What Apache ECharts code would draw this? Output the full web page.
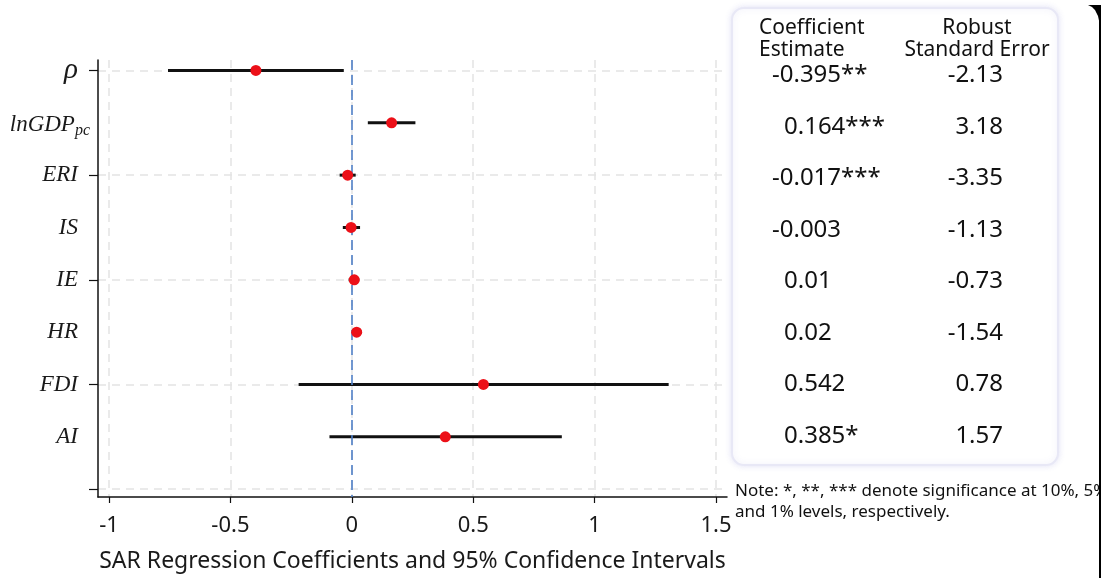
<!DOCTYPE html>
<html>
<head>
<meta charset="utf-8">
<script src="https://cdn.jsdelivr.net/npm/echarts@6/dist/echarts.min.js"></script>
<style>
html,body{margin:0;padding:0;background:#fff;}
#c{width:1107px;height:578px;}
</style>
</head>
<body>
<div id="c"></div>
<script>
// ---- data ----
const categories = ['ρ', 'lnGDP_pc', 'ERI', 'IS', 'IE', 'HR', 'FDI', 'AI'];
const coef = [-0.395, 0.164, -0.017, -0.003, 0.01, 0.02, 0.542, 0.385];
const ciLow = [-0.757, 0.066, -0.050, -0.037, -0.013, 0.004, -0.219, -0.092];
const ciHigh = [-0.033, 0.262, 0.016, 0.034, 0.031, 0.042, 1.305, 0.865];
const xTicks = [-1, -0.5, 0, 0.5, 1, 1.5];
const coefLabels = ['-0.395**', '0.164***', '-0.017***', '-0.003', '0.01', '0.02', '0.542', '0.385*'];
const seLabels = ['-2.13', '3.18', '-3.35', '-1.13', '-0.73', '-1.54', '0.78', '1.57'];
const headerCoef = 'Coefficient\nEstimate';
const headerSE = 'Robust\nStandard Error';
const noteLines = ['Note: *, **, *** denote significance at 10%, 5%,', 'and 1% levels, respectively.'];

const catPos = categories.map((c, i) => i + 1);
const yTickValues = [1, 3, 5, 7, 9];

const chart = echarts.init(document.getElementById('c'), null, {renderer: 'canvas'});

const SANS = '"Noto Sans", "Open Sans", sans-serif';
const SERIF = '"Liberation Serif", "DejaVu Serif", serif';

const option = {
  animation: false,
  backgroundColor: '#ffffff',
  grid: {left: 98, right: 380, top: 60, bottom: 75, containLabel: false},
  xAxis: {
    type: 'value',
    min: -1.0453,
    max: 1.5453,
    name: 'SAR Regression Coefficients and 95% Confidence Intervals',
    nameLocation: 'middle',
    nameGap: 53,
    nameTextStyle: {fontFamily: SANS, fontSize: 23, color: '#1a1a1a'},
    axisLine: {show: true, onZero: false, lineStyle: {color: '#111', width: 1.5}},
    axisTick: {show: true, length: 6, inside: false, customValues: xTicks, lineStyle: {color: '#111', width: 1.2}},
    axisLabel: {customValues: xTicks, margin: 18, fontFamily: SANS, fontSize: 22, color: '#1a1a1a',
      formatter: v => String(v)},
    splitLine: {show: true, lineStyle: {type: [8, 6], color: '#e3e3e3', width: 1.5}}
  },
  yAxis: {
    type: 'value',
    inverse: true,
    min: 0.80,
    max: 9.15,
    axisLine: {show: true, onZero: false, lineStyle: {color: '#111', width: 1.5}},
    axisTick: {show: true, length: 9, customValues: yTickValues, lineStyle: {color: '#111', width: 1.2}},
    axisLabel: {
      customValues: catPos,
      margin: 8,
      formatter: function (v) {
        const name = categories[Math.round(v) - 1];
        if (!name) return '';
        if (name.indexOf('_') >= 0) {
          const parts = name.split('_');
          return '{m2|' + parts[0] + '}{s|' + parts[1] + '}';
        }
        if (name.charCodeAt(0) >= 0x370) return '{g|' + name + '}';
        return '{m|' + name + '}';
      },
      rich: {
        m: {fontFamily: SERIF, fontStyle: 'italic', fontSize: 23, color: '#1a1a1a', padding: [0, 12, 0, 0]},
        g: {fontFamily: SERIF, fontStyle: 'italic', fontSize: 29, color: '#1a1a1a', padding: [0, 12, 0, 0]},
        m2: {fontFamily: SERIF, fontStyle: 'italic', fontSize: 23, color: '#1a1a1a', padding: [4, 0, 0, 0]},
        s: {fontFamily: SERIF, fontStyle: 'italic', fontSize: 16, color: '#1a1a1a', padding: [16, 0, 0, 0]}
      }
    },
    splitLine: {show: true, lineStyle: {type: [8, 6], color: '#e3e3e3', width: 1.5}}
  },
  series: [
    {
      type: 'custom',
      name: 'CI',
      data: categories.map((c, i) => [ciLow[i], ciHigh[i], catPos[i]]),
      encode: {x: [0, 1], y: 2},
      renderItem: function (params, api) {
        const p1 = api.coord([api.value(0), api.value(2)]);
        const p2 = api.coord([api.value(1), api.value(2)]);
        return {
          type: 'line',
          shape: {x1: p1[0], y1: p1[1], x2: p2[0], y2: p2[1]},
          style: {stroke: '#111', lineWidth: 3}
        };
      },
      z: 3,
      markLine: {
        silent: true,
        symbol: 'none',
        label: {show: false},
        lineStyle: {color: '#4f7fc6', type: [10, 5], width: 1.6},
        data: [{xAxis: 0}]
      }
    },
    {
      type: 'scatter',
      name: 'Coefficient',
      data: categories.map((c, i) => [coef[i], catPos[i]]),
      symbol: 'circle',
      symbolSize: 11,
      itemStyle: {color: '#ec1018', opacity: 1},
      z: 5
    }
  ]
};
chart.setOption(option);

// ---- table drawn as graphic text; rows spread between first and last category ----
const yFirst = chart.convertToPixel({yAxisIndex: 0}, catPos[0]) + 5;
const yLast = chart.convertToPixel({yAxisIndex: 0}, catPos[catPos.length - 1]) - 1;
const rowStep = (yLast - yFirst) / (catPos.length - 1);
const graphics = [];
graphics.push({
  type: 'rect',
  shape: {x: 732, y: 8, width: 326, height: 457, r: 12},
  style: {fill: '#ffffff', stroke: '#e8e8f6', lineWidth: 2, shadowBlur: 6, shadowColor: 'rgba(120,120,210,0.18)'},
  z: 1
});
graphics.push({
  type: 'text', x: 759, y: 39,
  style: {text: headerCoef, font: '21px ' + SANS, fill: '#111', textAlign: 'left', textVerticalAlign: 'middle', lineHeight: 22},
  z: 2
});
graphics.push({
  type: 'text', x: 977, y: 39,
  style: {text: headerSE, font: '21px ' + SANS, fill: '#111', textAlign: 'center', textVerticalAlign: 'middle', lineHeight: 22},
  z: 2
});
categories.forEach((c, i) => {
  const py = yFirst + i * rowStep;
  const neg = coefLabels[i].charAt(0) === '-';
  graphics.push({
    type: 'text', x: neg ? 772 : 784, y: py,
    style: {text: coefLabels[i], font: '24px ' + SANS, fill: '#111', textAlign: 'left', textVerticalAlign: 'middle'},
    z: 2
  });
  graphics.push({
    type: 'text', x: 1003, y: py,
    style: {text: seLabels[i], font: '24px ' + SANS, fill: '#111', textAlign: 'right', textVerticalAlign: 'middle'},
    z: 2
  });
});
noteLines.forEach((t, i) => {
  graphics.push({
    type: 'text', x: 735, y: 491 + i * 21,
    style: {text: t, font: '17px ' + SANS, fill: '#111', textAlign: 'left', textVerticalAlign: 'middle'},
    z: 2
  });
});
// right-edge frame (screenshot border)
graphics.push({type: 'rect', shape: {x: 1101, y: 0, width: 6, height: 578}, style: {fill: '#ffffff'}, z: 10});
graphics.push({type: 'rect', shape: {x: 1099, y: 5, width: 2, height: 573}, style: {fill: '#000000'}, z: 11});
graphics.push({
  type: 'polygon',
  shape: {points: [[1088, 5], [1101, 5], [1101, 30], [1100, 30], [1099.5, 23], [1098, 16], [1095, 10], [1092, 7]]},
  style: {fill: '#000000'},
  z: 11
});
chart.setOption({graphic: graphics});
</script>
</body>
</html>
